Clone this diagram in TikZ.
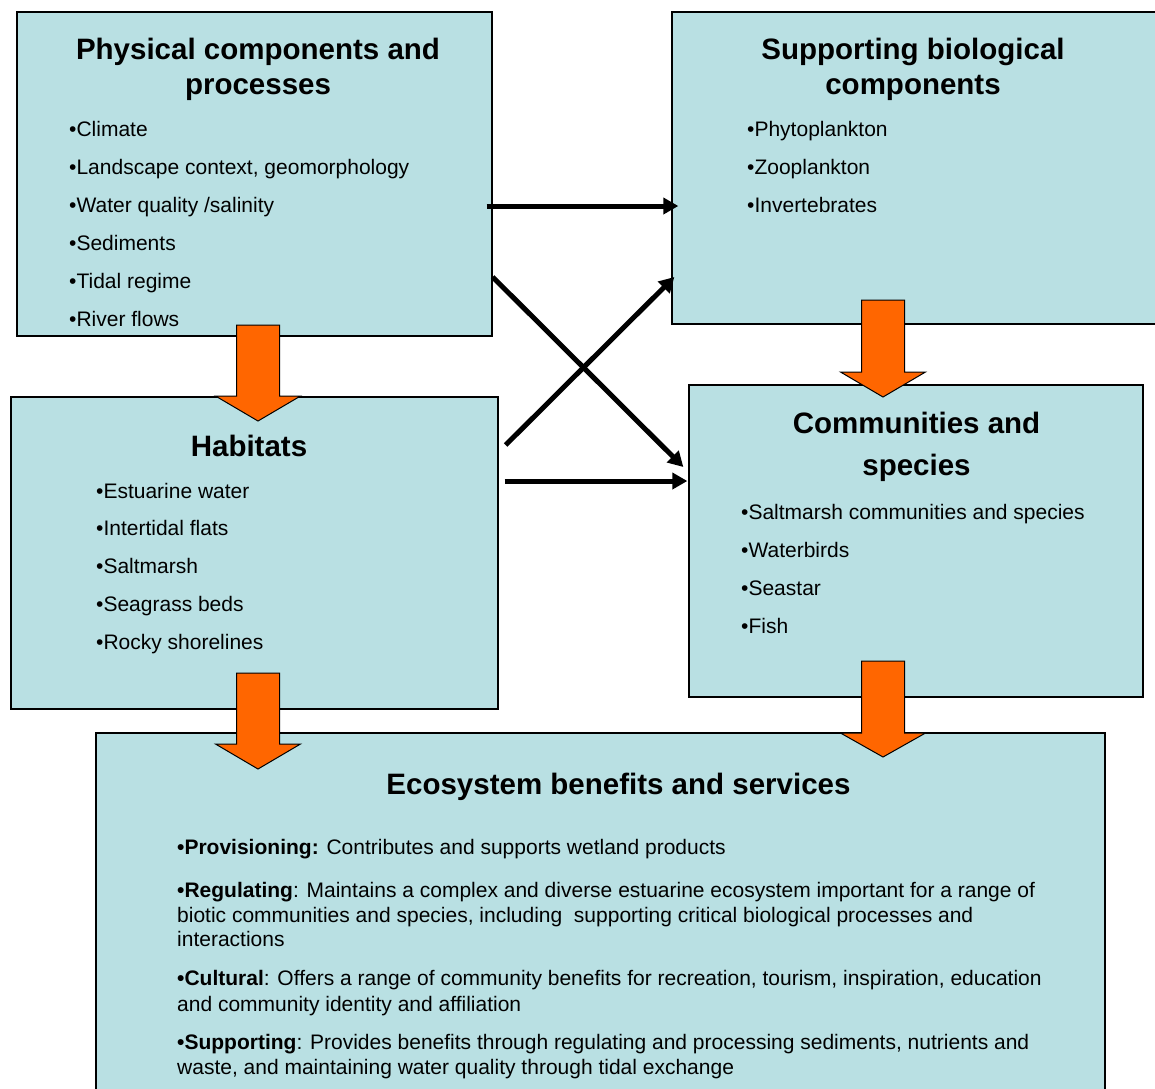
\documentclass[tikz,border=0pt]{standalone}
\usepackage{fontspec}
\setmainfont{Liberation Sans}
\usetikzlibrary{arrows.meta,calc}
\definecolor{boxfill}{HTML}{B9E0E3}
\definecolor{blockorange}{HTML}{FF6600}

\begin{document}
\begin{tikzpicture}[x=1pt,y=-1pt,
	box/.style={draw=black,line width=1.3pt,fill=boxfill,inner sep=0pt},
	title/.style={font=\fontsize{29.5}{34}\selectfont\bfseries,anchor=base,inner sep=0pt},
	item/.style={font=\fontsize{21}{24}\selectfont,anchor=base west,inner sep=0pt},
	link/.style={line width=5pt,-{Triangle[length=15pt,width=16pt]}},
	block/.style={draw=black,line width=1pt,fill=blockorange,line join=miter}]
	\clip (0,0) rectangle (1155,1088);

	\node[box,minimum width=475pt,minimum height=324pt] (phys) at (254.5,174) {};
	\node[box,minimum width=493pt,minimum height=312pt] (supp) at (918.5,168) {};
	\node[box,minimum width=487pt,minimum height=312pt] (hab) at (254.5,553) {};
	\node[box,minimum width=454pt,minimum height=312pt] (comm) at (916,541) {};
	\node[box,minimum width=1009pt,minimum height=377pt] (eco) at (600.5,921.5) {};

	\foreach \xc/\ytop/\yhead/\ytip in {258/325/396/421, 883/300/372/397, 258/673/744/769, 883/661/733/757}
		\draw[block] (\xc-21.5,\ytop) -- (\xc+21.5,\ytop) -- (\xc+21.5,\yhead) -- (\xc+42.5,\yhead)
			-- (\xc,\ytip) -- (\xc-42.5,\yhead) -- (\xc-21.5,\yhead) -- cycle;

	\draw[link] ($(phys.east)+(-6,32)$) -- ($(supp.west)+(7,38)$);
	\draw[link] ($(phys.east)+(0,103)$) -- ($(comm.west)+(-5,-74)$);
	\draw[link] ($(hab.east)+(7,-108)$) -- ($(supp.west)+(3,109)$);
	\draw[link] ($(hab.east)+(6,-72)$) -- ($(comm.west)+(-1,-60)$);

	\node[title] (physT1) at (258,59) {Physical components and};
	\node[title] (physT2) at (258,94) {processes};
	\foreach \txt [count=\i] in {Climate, {Landscape context, geomorphology}, Water quality /salinity, Sediments, Tidal regime, River flows}
		\node[item] (phys-\i) at (69,97.9+38.1*\i) {•\txt};

	\node[title] (suppT1) at (913,59) {Supporting biological};
	\node[title] (suppT2) at (913,94) {components};
	\foreach \txt [count=\i] in {Phytoplankton, Zooplankton, Invertebrates}
		\node[item] (supp-\i) at (747,97.9+38.1*\i) {•\txt};

	\node[title] (habT) at (249,456) {Habitats};
	\foreach \txt [count=\i] in {Estuarine water, Intertidal flats, Saltmarsh, Seagrass beds, Rocky shorelines}
		\node[item] (hab-\i) at (96,460.25+37.75*\i) {•\txt};

	\node[title] (commT1) at (916.5,433) {Communities and};
	\node[title] (commT2) at (916.5,475) {species};
	\foreach \txt [count=\i] in {Saltmarsh communities and species, Waterbirds, Seastar, Fish}
		\node[item] (comm-\i) at (741,481+38*\i) {•\txt};

	\node[title] (ecoT) at (618.5,794) {Ecosystem benefits and services};
	\node[item] (eco-1) at (177,854) {\textbf{•Provisioning:} Contributes and supports wetland products};
	\node[item] (eco-2) at (177,897) {\textbf{•Regulating}: Maintains a complex and diverse estuarine ecosystem important for a range of};
	\node[item] (eco-3) at (177,922) {biotic communities and species, including\ \ supporting critical biological processes and};
	\node[item] (eco-4) at (177,946) {interactions};
	\node[item] (eco-5) at (177,985) {\textbf{•Cultural}: Offers a range of community benefits for recreation, tourism, inspiration, education};
	\node[item] (eco-6) at (177,1011) {and community identity and affiliation};
	\node[item] (eco-7) at (177,1049) {\textbf{•Supporting}: Provides benefits through regulating and processing sediments, nutrients and};
	\node[item] (eco-8) at (177,1074) {waste, and maintaining water quality through tidal exchange};
\end{tikzpicture}
\end{document}
